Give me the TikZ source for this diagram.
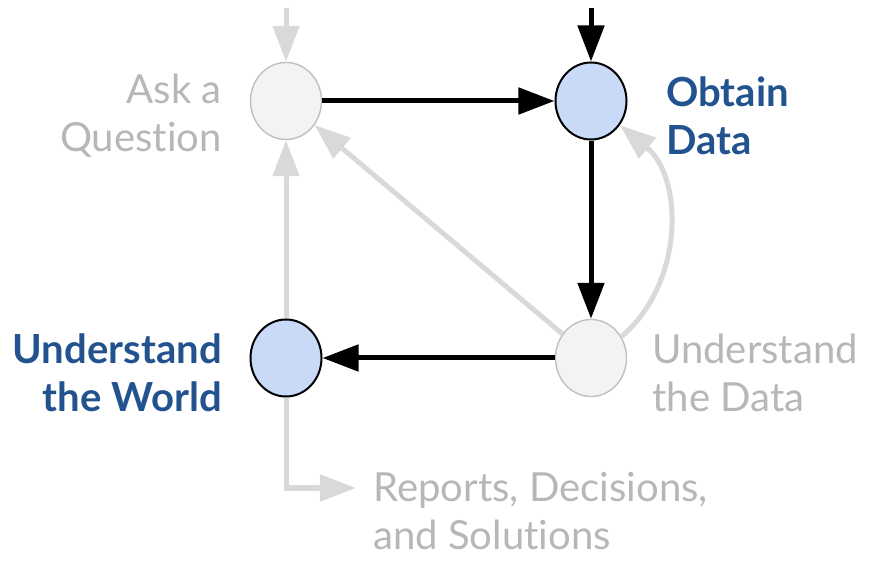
\documentclass[tikz,border=0pt]{standalone}
\usepackage{fontspec}
\setmainfont[Ligatures=NoCommon]{Lato}
\usetikzlibrary{shapes.geometric,arrows.meta}
\definecolor{paleblue}{HTML}{C9DAF8}
\definecolor{deepblue}{HTML}{22538F}
\definecolor{lightline}{HTML}{D9D9D9}
\definecolor{greytext}{HTML}{B7B7B7}
\definecolor{greyfill}{HTML}{F3F3F3}
\definecolor{greyedge}{HTML}{C0C0C0}
\tikzset{
  stage/.style={ellipse,minimum width=1.775cm,minimum height=1.925cm,inner sep=0pt},
  active/.style={stage,draw=black,line width=0.05cm,fill=paleblue},
  idle/.style={stage,draw=greyedge,line width=0.035cm,fill=greyfill},
  flow/.style={line width=0.125cm,-{Triangle[length=0.9cm,width=0.65cm]}},
  mainflow/.style={flow,black},
  sideflow/.style={flow,lightline},
  label/.style={font=\fontsize{28.5}{34}\selectfont,inner sep=0pt},
  onlabel/.style={label,text=deepblue,font=\fontsize{28.5}{34}\selectfont\bfseries},
  offlabel/.style={label,text=greytext}
}
\begin{document}
\begin{tikzpicture}[x=0.025cm,y=0.025cm]
    \useasboundingbox (0,0) rectangle (880,572);
    \node[idle] (ask) at (286,471) {};
    \node[active] (obtain) at (591,471) {};
    \node[idle] (data) at (591,214) {};
    \node[active] (world) at (286,214) {};
    \coordinate (asktop) at (286,564);
    \coordinate (obtaintop) at (591,564);
    \coordinate (corner) at (286,84);
    \coordinate (reports) at (356,84);
    \draw[sideflow] (asktop) -- (ask);
    \draw[mainflow] (obtaintop) -- (obtain);
    \draw[mainflow] (ask) -- (obtain);
    \draw[mainflow] (obtain) -- (data);
    \draw[mainflow] (data) -- (world);
    \draw[sideflow] (data) -- (ask);
    \draw[sideflow] (data.35) to[bend right=50] (obtain.-40);
    \draw[sideflow] (world) -- (ask);
    \draw[sideflow] (world) |- (reports);
    \node[offlabel,align=right,anchor=east] (asklabel) at (222,456) {Ask a\\Question};
    \node[onlabel,align=left,anchor=west] (obtainlabel) at (666,456) {Obtain\\Data};
    \node[onlabel,align=right,anchor=east] (worldlabel) at (222,199) {Understand\\the World};
    \node[offlabel,align=left,anchor=west] (datalabel) at (652,199) {Understand\\the Data};
    \node[offlabel,align=left,anchor=west] (reportslabel) at (373,61) {Reports, Decisions,\\and Solutions};
\end{tikzpicture}
\end{document}
